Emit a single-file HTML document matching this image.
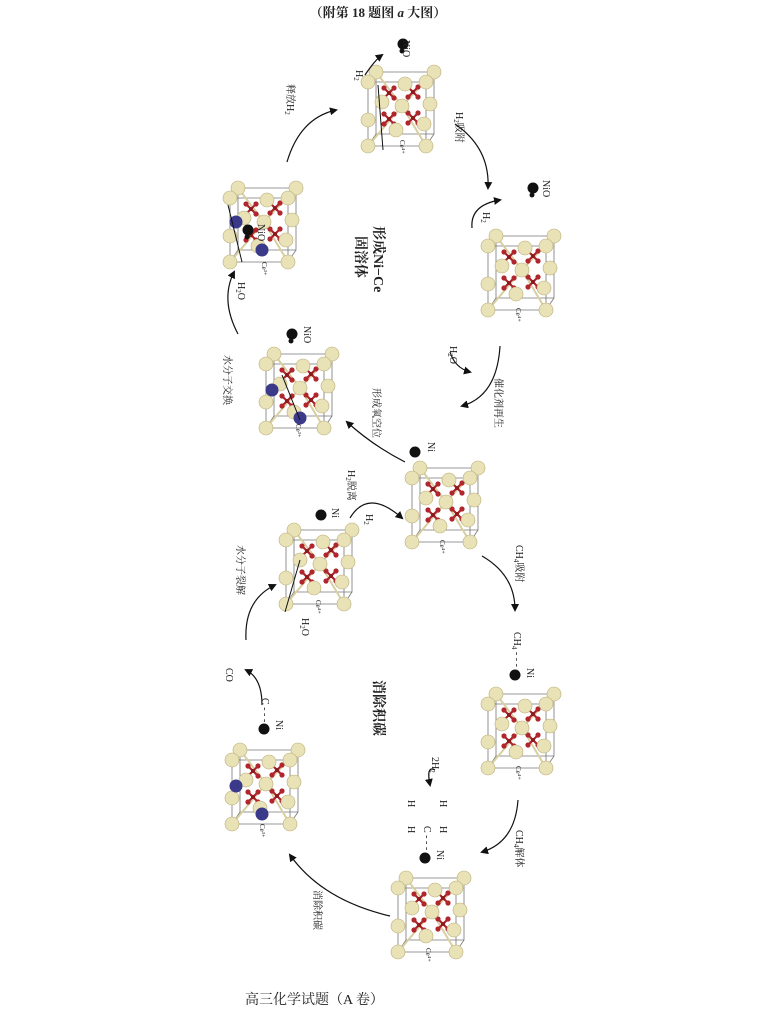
<!DOCTYPE html>
<html><head><meta charset="utf-8"><style>
html,body{margin:0;padding:0;background:#fff;}
svg{display:block;}
text{font-family:"Liberation Serif","Noto Serif CJK SC","Noto Sans CJK SC",serif;fill:#222;}
</style></head><body>
<svg width="757" height="1034" viewBox="0 0 757 1034" xmlns="http://www.w3.org/2000/svg">
<defs>
<marker id="ah" markerWidth="8" markerHeight="8" refX="6" refY="4" orient="auto" markerUnits="userSpaceOnUse">
<path d="M0,0 L8,4 L0,8 Z" fill="#111"/></marker>
<g id="rs">
<line x1="-6" y1="-6" x2="6" y2="6" stroke="#a8242a" stroke-width="2.2"/>
<line x1="-6" y1="6" x2="6" y2="-6" stroke="#a8242a" stroke-width="2.2"/>
<circle cx="-5" cy="-5" r="2.6" fill="#b0262c"/><circle cx="5" cy="5" r="2.6" fill="#b0262c"/>
<circle cx="-5" cy="5" r="2.6" fill="#b0262c"/><circle cx="5" cy="-5" r="2.6" fill="#b0262c"/>
<circle cx="0" cy="0" r="2" fill="#8a1a1e"/>
</g>
<g id="cell">
<polygon points="14,8 72,8 72,70 14,70" fill="none" stroke="#777" stroke-width="0.8"/>
<polygon points="6,18 64,18 64,82 6,82" fill="none" stroke="#777" stroke-width="0.8"/>
<line x1="14" y1="8" x2="6" y2="18" stroke="#777" stroke-width="0.8"/>
<line x1="72" y1="8" x2="64" y2="18" stroke="#777" stroke-width="0.8"/>
<line x1="72" y1="70" x2="64" y2="82" stroke="#777" stroke-width="0.8"/>
<line x1="14" y1="70" x2="6" y2="82" stroke="#777" stroke-width="0.8"/>
<g stroke="#d8cfa0" stroke-width="2">
<line x1="14" y1="8" x2="40" y2="42"/><line x1="72" y1="8" x2="40" y2="42"/>
<line x1="6" y1="82" x2="40" y2="42"/><line x1="64" y1="82" x2="40" y2="42"/>
</g>
<use href="#rs" x="27" y="29"/><use href="#rs" x="51" y="28"/>
<use href="#rs" x="27" y="55"/><use href="#rs" x="51" y="54"/>
<g fill="#e9e2b6" stroke="#b9ad78" stroke-width="0.6">
<circle cx="14" cy="8" r="7"/><circle cx="72" cy="8" r="7"/>
<circle cx="43" cy="20" r="7"/><circle cx="68" cy="40" r="7"/>
<circle cx="20" cy="38" r="7"/><circle cx="40" cy="42" r="7"/>
<circle cx="6" cy="56" r="7"/><circle cx="62" cy="60" r="7"/>
<circle cx="34" cy="66" r="7"/><circle cx="6" cy="18" r="7"/>
<circle cx="64" cy="82" r="7"/><circle cx="6" cy="82" r="7"/>
<circle cx="64" cy="18" r="7"/>
</g>
</g>
<g id="nio"><circle cx="0" cy="0" r="5.5" fill="#111"/><circle cx="-1" cy="7" r="2.5" fill="#111"/></g>
</defs>

<text x="378" y="17" font-size="13" font-weight="bold" text-anchor="middle">（附第 18 题图 <tspan font-style="italic">a</tspan> 大图）</text>
<text x="245" y="1004" font-size="14">高三化学试题（A 卷）</text>

<use href="#cell" x="362" y="64"/>
<use href="#cell" x="482" y="228"/>
<use href="#cell" x="406" y="460"/>
<use href="#cell" x="482" y="686"/>
<use href="#cell" x="392" y="870"/>
<use href="#cell" x="226" y="742"/>
<use href="#cell" x="280" y="522"/>
<use href="#cell" x="260" y="346"/>
<use href="#cell" x="224" y="180"/>

<g fill="#3b3a8a">
<circle cx="236" cy="222" r="6.5"/><circle cx="262" cy="250" r="6.5"/>
<circle cx="272" cy="390" r="6.5"/><circle cx="300" cy="418" r="6.5"/>
<circle cx="236" cy="786" r="6.5"/><circle cx="262" cy="814" r="6.5"/>
</g>

<use href="#nio" x="403" y="44"/>
<use href="#nio" x="533" y="188"/>
<use href="#nio" x="292" y="334"/>
<use href="#nio" x="248" y="230"/>
<g fill="#111">
<circle cx="415" cy="452" r="5.5"/><circle cx="321" cy="515" r="5.5"/>
<circle cx="515" cy="675" r="5.5"/><circle cx="425" cy="858" r="5.5"/>
<circle cx="264" cy="729" r="5.5"/>
</g>

<g fill="none" stroke="#111" stroke-width="1.2" marker-end="url(#ah)">
<path d="M287,162 Q300,118 336,110"/>
<path d="M455,124 Q490,148 488,188"/>
<path d="M500,346 Q497,396 462,406"/>
<path d="M405,462 Q372,445 347,422"/>
<path d="M350,518 Q368,488 402,518"/>
<path d="M482,556 Q515,575 515,610"/>
<path d="M518,800 Q515,842 482,852"/>
<path d="M390,916 Q322,900 290,855"/>
<path d="M262,705 Q262,678 246,670"/>
<path d="M246,640 Q244,600 275,585"/>
<path d="M238,334 Q220,300 234,272"/>
<path d="M472,228 Q470,205 500,200"/>
<path d="M450,352 Q455,368 470,372"/>
<path d="M365,75 Q375,60 382,55"/>
<path d="M435,770 Q426,765 430,785"/>
</g>
<g fill="none" stroke="#111" stroke-width="1">
<path d="M383,150 L378,85"/>
<path d="M242,262 L228,205"/>
<path d="M285,612 L300,560"/>
<path d="M300,420 L282,375"/>
</g>

<g font-size="10">
<text transform="translate(287,84) rotate(90)">释放H<tspan font-size="7" dy="2">2</tspan></text>
<text transform="translate(456,112) rotate(90)">H<tspan font-size="7" dy="2">2</tspan><tspan dy="-2">吸附</tspan></text>
<text transform="translate(495,378) rotate(90)">催化剂再生</text>
<text transform="translate(373,388) rotate(90)">形成氧空位</text>
<text transform="translate(348,470) rotate(90)">H<tspan font-size="7" dy="2">2</tspan><tspan dy="-2">脱离</tspan></text>
<text transform="translate(516,545) rotate(90)">CH<tspan font-size="7" dy="2">4</tspan><tspan dy="-2">吸附</tspan></text>
<text transform="translate(516,830) rotate(90)">CH<tspan font-size="7" dy="2">4</tspan><tspan dy="-2">解体</tspan></text>
<text transform="translate(314,890) rotate(90)">消除积碳</text>
<text transform="translate(237,545) rotate(90)">水分子裂解</text>
<text transform="translate(224,355) rotate(90)">水分子交换</text>
<text transform="translate(403,40) rotate(90)">NiO</text>
<text transform="translate(543,180) rotate(90)">NiO</text>
<text transform="translate(304,326) rotate(90)">NiO</text>
<text transform="translate(258,224) rotate(90)">NiO</text>
<text transform="translate(356,70) rotate(90)">H<tspan font-size="7" dy="2">2</tspan></text>
<text transform="translate(483,212) rotate(90)">H<tspan font-size="7" dy="2">2</tspan></text>
<text transform="translate(450,346) rotate(90)">H<tspan font-size="7" dy="2">2</tspan><tspan dy="-2">O</tspan></text>
<text transform="translate(238,282) rotate(90)">H<tspan font-size="7" dy="2">2</tspan><tspan dy="-2">O</tspan></text>
<text transform="translate(302,618) rotate(90)">H<tspan font-size="7" dy="2">2</tspan><tspan dy="-2">O</tspan></text>
<text transform="translate(366,514) rotate(90)">H<tspan font-size="7" dy="2">2</tspan></text>
<text transform="translate(428,442) rotate(90)">Ni</text>
<text transform="translate(332,508) rotate(90)">Ni</text>
<text transform="translate(527,668) rotate(90)">Ni</text>
<text transform="translate(437,850) rotate(90)">Ni</text>
<text transform="translate(276,720) rotate(90)">Ni</text>
<text transform="translate(514,632) rotate(90)">CH<tspan font-size="7" dy="2">4</tspan><tspan dy="-2"> - - -</tspan></text>
<text transform="translate(424,826) rotate(90)">C - - -</text>
<text transform="translate(262,698) rotate(90)">C - - -</text>
<text transform="translate(226,668) rotate(90)">CO</text>
<text transform="translate(432,757) rotate(90)">2H<tspan font-size="7" dy="2">2</tspan></text>
<text transform="translate(440,800) rotate(90)">H</text>
<text transform="translate(440,826) rotate(90)">H</text>
<text transform="translate(408,800) rotate(90)">H</text>
<text transform="translate(408,826) rotate(90)">H</text>
</g>
<g font-size="7">
<text transform="translate(400,140) rotate(90)">Ce⁴⁺</text>
<text transform="translate(516,308) rotate(90)">Ce⁴⁺</text>
<text transform="translate(440,540) rotate(90)">Ce⁴⁺</text>
<text transform="translate(516,766) rotate(90)">Ce⁴⁺</text>
<text transform="translate(426,948) rotate(90)">Ce⁴⁺</text>
<text transform="translate(260,824) rotate(90)">Ce³⁺</text>
<text transform="translate(316,600) rotate(90)">Ce⁴⁺</text>
<text transform="translate(296,424) rotate(90)">Ce³⁺</text>
<text transform="translate(262,262) rotate(90)">Ce³⁺</text>
</g>
<g font-size="14" font-weight="bold">
<text transform="translate(374,226) rotate(90)">形成Ni−Ce</text>
<text transform="translate(356,236) rotate(90)">固溶体</text>
<text transform="translate(374,680) rotate(90)">消除积碳</text>
</g>
</svg>
</body></html>
